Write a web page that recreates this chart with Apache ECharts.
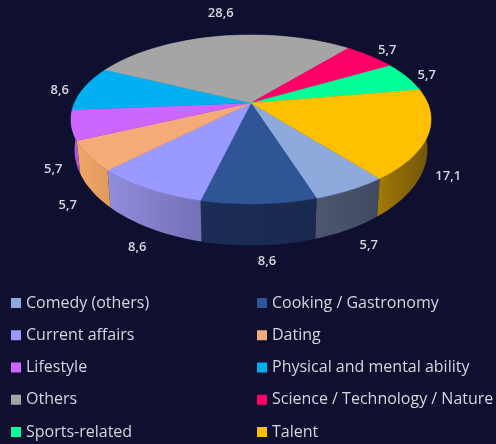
<!DOCTYPE html>
<html>
<head>
<meta charset="utf-8">
<script src="https://cdn.jsdelivr.net/npm/echarts@6/dist/echarts.min.js"></script>
<style>
    html, body { margin: 0; padding: 0; background: #0f1030; }
    #myChart { width: 496px; height: 444px; }
</style>
</head>
<body>
<div id="myChart"></div>
<script>
var categories = ['Comedy (others)', 'Cooking / Gastronomy', 'Current affairs', 'Dating', 'Lifestyle',
    'Physical and mental ability', 'Others', 'Science / Technology / Nature', 'Sports-related', 'Talent'];
var values = [5.7, 8.6, 8.6, 5.7, 5.7, 8.6, 28.6, 5.7, 5.7, 17.1];

var topColors = ['#8ea9db', '#2f5597', '#9999ff', '#f4ab78', '#cc66ff', '#00b0f0', '#a5a5a5', '#ff0066', '#00ff99', '#ffc000'];
// left and right end of each slice's outer wall
var sideColors = [['#4d5870', '#3f4a60'], ['#1b2d57', '#19294f'], ['#908edc', '#7470b6'], ['#f0a868', '#e09a5e'], ['#a653cc', '#b05ad8'],
    ['#0088bb', '#0088bb'], ['#808080', '#808080'], ['#c00050', '#c00050'], ['#00c078', '#00c078'], ['#a27a08', '#6f5408']];
// label offset from the slice's rim point, in px
var labelOffsets = [[18, 55], [8, 57], [-11, 58], [-21, 49], [-18, 44], [-24, 2], [1, -23], [17, -6], [20, -2], [20, 42]];

// pie geometry: tilted disc seen in perspective
var cx = 251, cy = 103, ax = 176.6, ay = 81.3, persp = 0.195;
var wallDrop = 27.8, wallScaleX = 0.98, wallScaleY = 1.135;
var startAngle = 141.9;

var total = values.reduce(function (a, b) { return a + b; }, 0);

function sliceAngles(i) {
    var before = 0;
    for (var k = 0; k < i; k++) before += values[k];
    return [startAngle + before / total * 360, startAngle + (before + values[i]) / total * 360];
}

// angle is clockwise from 12 o'clock, on the disc
function project(deg) {
    var t = deg * Math.PI / 180;
    var X = Math.sin(t), Y = -Math.cos(t);
    var d = 1 - persp * Y;
    return [cx + ax * X / d, cy + ay * Y / d];
}

function lower(p) {
    return [cx + (p[0] - cx) * wallScaleX, cy + wallDrop + (p[1] - cy) * wallScaleY];
}

function arcPoints(a0, a1) {
    var pts = [];
    var n = Math.ceil((a1 - a0) / 1.5);
    for (var s = 0; s <= n; s++) pts.push(project(a0 + (a1 - a0) * s / n));
    return pts;
}

function renderTop(i) {
    return function (params, api) {
        var a = sliceAngles(i);
        var pts = [[cx, cy]].concat(arcPoints(a[0], a[1]));
        var rim = project((a[0] + a[1]) / 2);
        return {
            type: 'group',
            children: [{
                type: 'polygon',
                shape: { points: pts },
                style: { fill: topColors[i], stroke: topColors[i], lineWidth: 0.5 }
            }, {
                type: 'text',
                z2: 10,
                style: {
                    text: String(api.value(0)).replace('.', ','),
                    x: rim[0] + labelOffsets[i][0],
                    y: rim[1] + labelOffsets[i][1],
                    fill: '#d4d5de',
                    font: '600 13px "Open Sans"',
                    align: 'center',
                    verticalAlign: 'middle'
                }
            }]
        };
    };
}

function renderSide(params, api) {
    var i = params.dataIndex;
    var a = sliceAngles(i);
    var upper = arcPoints(a[0], a[1]);
    var pts = upper.concat(upper.map(lower).reverse());
    return {
        type: 'polygon',
        shape: { points: pts },
        style: {
            fill: {
                type: 'linear', x: 0, y: 0, x2: 1, y2: 0,
                colorStops: [{ offset: 0, color: sideColors[i][0] }, { offset: 1, color: sideColors[i][1] }]
            }
        }
    };
}

var series = [{
    name: 'walls',
    type: 'custom',
    coordinateSystem: 'none',
    z: 1,
    silent: true,
    renderItem: renderSide,
    data: values
}];

categories.forEach(function (name, i) {
    series.push({
        name: name,
        type: 'custom',
        coordinateSystem: 'none',
        z: 2,
        itemStyle: { color: topColors[i] },
        renderItem: renderTop(i),
        data: [values[i]]
    });
});

function makeLegend(left, names) {
    return {
        orient: 'vertical',
        left: left,
        top: 294,
        itemWidth: 10,
        itemHeight: 10,
        itemGap: 14.25,
        padding: 0,
        icon: 'rect',
        selectedMode: false,
        data: names,
        textStyle: { color: '#d4d5de', fontFamily: 'Open Sans', fontSize: 16, lineHeight: 18 }
    };
}

var myChart = echarts.init(document.getElementById('myChart'));
myChart.setOption({
    animation: false,
    backgroundColor: '#0f1030',
    legend: [
        makeLegend(11, categories.filter(function (c, i) { return i % 2 === 0; })),
        makeLegend(257, categories.filter(function (c, i) { return i % 2 === 1; }))
    ],
    series: series
});
</script>
</body>
</html>
